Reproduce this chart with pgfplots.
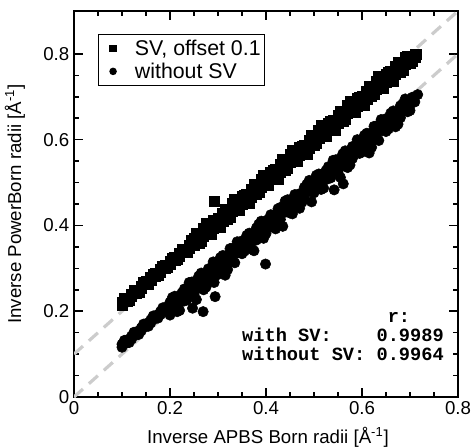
\documentclass[border=0pt]{standalone}
\usepackage{fontspec}
\setmainfont{Liberation Sans}
\setmonofont{Liberation Mono}
\usepackage{pgfplots}
\pgfplotsset{compat=1.18}
\definecolor{refline}{RGB}{204,204,204}

\begin{document}
\begin{tikzpicture}
\begin{axis}[
    scale only axis,
    width=288pt, height=289.5pt,
    xmin=0, xmax=0.8, ymin=0, ymax=0.9,
    xtick={0,0.2,0.4,0.6,0.8},
    ytick={0,0.2,0.4,0.6,0.8},
    minor tick num=3,
    tick align=inside,
    major tick length=6.5pt,
    minor tick length=3.5pt,
    axis line style={line width=1.5pt},
    every tick/.style={black, line width=1.2pt},
    /pgf/number format/assume math mode=true,
    tick label style={font=\fontsize{14}{16}\selectfont},
    label style={font=\fontsize{14}{16}\selectfont},
    xlabel={Inverse APBS Born radii [Å\textsuperscript{-1}]},
    ylabel={Inverse PowerBorn radii [Å\textsuperscript{-1}]},
    xlabel style={at={(axis description cs:0.505,-0.104)}, anchor=center},
    ylabel style={at={(axis description cs:-0.154,0.5)}, anchor=center},
    legend style={
        at={(axis description cs:0.0625,0.9404)},
        anchor=north west,
        draw=black, line width=0.8pt,
        font=\fontsize{16}{18}\selectfont,
        inner xsep=1pt, inner ysep=2pt,
    },
    legend cell align=left,
    legend image code/.code={
        \path (-9.5pt,0pt) (14pt,0pt);
        \draw[#1, mark size=2.4pt] plot coordinates {(0pt,0pt)};
    },
]

% ---------- SV, offset 0.1 ----------
\addplot[only marks, mark=square*, mark size=3.8pt, black]
table[row sep=\\]{
x y\\
0.10 0.221\\ 0.10 0.215\\ 0.11 0.230\\ 0.11 0.224\\
0.12 0.240\\ 0.12 0.234\\ 0.13 0.249\\ 0.13 0.243\\
0.14 0.259\\ 0.14 0.253\\ 0.15 0.269\\ 0.15 0.263\\
0.16 0.278\\ 0.16 0.272\\ 0.17 0.288\\ 0.17 0.282\\
0.18 0.297\\ 0.18 0.291\\ 0.19 0.307\\ 0.19 0.301\\
0.20 0.316\\ 0.20 0.310\\ 0.21 0.326\\ 0.21 0.320\\
0.22 0.335\\ 0.22 0.329\\ 0.23 0.345\\ 0.23 0.339\\
0.24 0.354\\ 0.24 0.348\\
0.25 0.371\\ 0.25 0.353\\ 0.26 0.375\\ 0.26 0.358\\
0.27 0.394\\ 0.27 0.376\\ 0.28 0.391\\ 0.28 0.379\\
0.29 0.411\\ 0.29 0.393\\ 0.30 0.406\\ 0.30 0.416\\
0.31 0.428\\ 0.31 0.410\\ 0.32 0.432\\ 0.32 0.415\\
0.33 0.451\\ 0.33 0.433\\ 0.34 0.448\\ 0.34 0.436\\
0.35 0.468\\ 0.35 0.450\\ 0.36 0.463\\ 0.36 0.473\\
0.37 0.485\\ 0.37 0.467\\ 0.38 0.489\\ 0.38 0.472\\
0.39 0.508\\ 0.39 0.490\\ 0.40 0.505\\ 0.40 0.493\\
0.41 0.525\\ 0.41 0.507\\ 0.42 0.520\\ 0.42 0.530\\
0.43 0.542\\ 0.43 0.524\\ 0.44 0.546\\ 0.44 0.529\\
0.45 0.565\\ 0.45 0.547\\ 0.46 0.562\\ 0.46 0.550\\
0.47 0.582\\ 0.47 0.564\\ 0.48 0.577\\ 0.48 0.587\\
0.49 0.599\\ 0.49 0.581\\ 0.50 0.603\\ 0.50 0.586\\
0.51 0.622\\ 0.51 0.604\\ 0.52 0.619\\ 0.52 0.607\\
0.53 0.639\\ 0.53 0.621\\ 0.54 0.634\\ 0.54 0.644\\
0.55 0.656\\ 0.55 0.638\\ 0.56 0.661\\ 0.56 0.644\\
0.57 0.679\\ 0.57 0.661\\ 0.58 0.677\\ 0.58 0.665\\
0.59 0.696\\ 0.59 0.678\\ 0.60 0.692\\ 0.60 0.702\\
0.61 0.713\\ 0.61 0.695\\ 0.62 0.718\\ 0.62 0.701\\
0.63 0.736\\ 0.63 0.718\\ 0.64 0.734\\ 0.64 0.722\\
0.65 0.753\\ 0.65 0.735\\ 0.66 0.749\\ 0.66 0.759\\
0.67 0.770\\ 0.67 0.752\\ 0.68 0.775\\ 0.68 0.758\\
0.69 0.793\\ 0.69 0.775\\ 0.70 0.791\\ 0.70 0.779\\
0.712 0.800\\ 0.71 0.792\\
0.105 0.229\\ 0.115 0.226\\ 0.125 0.248\\ 0.135 0.245\\
0.145 0.267\\ 0.155 0.264\\ 0.165 0.286\\ 0.175 0.283\\
0.185 0.305\\ 0.195 0.302\\ 0.205 0.324\\ 0.215 0.321\\
0.225 0.345\\ 0.235 0.338\\ 0.245 0.366\\
0.255 0.381\\ 0.265 0.363\\ 0.275 0.404\\ 0.285 0.379\\
0.295 0.413\\ 0.305 0.395\\ 0.315 0.438\\ 0.325 0.420\\
0.335 0.461\\ 0.345 0.436\\ 0.355 0.470\\ 0.365 0.452\\
0.375 0.495\\ 0.385 0.477\\ 0.395 0.518\\ 0.405 0.493\\
0.415 0.528\\ 0.425 0.509\\ 0.435 0.553\\ 0.445 0.534\\
0.455 0.576\\ 0.465 0.550\\ 0.475 0.585\\ 0.485 0.566\\
0.495 0.610\\ 0.505 0.591\\ 0.515 0.633\\ 0.525 0.607\\
0.535 0.642\\ 0.545 0.623\\ 0.555 0.667\\ 0.565 0.648\\
0.575 0.690\\ 0.585 0.664\\ 0.595 0.699\\ 0.605 0.680\\
0.615 0.724\\ 0.625 0.705\\ 0.635 0.747\\ 0.645 0.721\\
0.655 0.756\\ 0.665 0.737\\ 0.675 0.781\\ 0.685 0.762\\
0.695 0.794\\ 0.705 0.783\\
0.292 0.457\\
};
\addlegendentry{SV, offset 0.1}

% ---------- without SV ----------
\addplot[only marks, mark=*, mark size=3.9pt, black]
table[row sep=\\]{
x y\\
0.10 0.123\\ 0.10 0.116\\ 0.11 0.133\\ 0.11 0.126\\
0.12 0.142\\ 0.12 0.135\\ 0.13 0.152\\ 0.13 0.145\\
0.14 0.161\\ 0.14 0.154\\ 0.15 0.171\\ 0.15 0.164\\
0.16 0.180\\ 0.16 0.173\\ 0.17 0.190\\ 0.17 0.183\\
0.18 0.199\\ 0.18 0.192\\ 0.19 0.209\\ 0.19 0.202\\
0.20 0.221\\ 0.20 0.205\\ 0.20 0.191\\
0.21 0.235\\ 0.21 0.221\\ 0.21 0.207\\
0.22 0.236\\ 0.22 0.220\\ 0.22 0.202\\
0.23 0.252\\ 0.23 0.238\\ 0.23 0.224\\
0.24 0.257\\ 0.24 0.241\\ 0.24 0.267\\
0.25 0.269\\ 0.25 0.253\\ 0.25 0.239\\
0.26 0.282\\ 0.26 0.268\\ 0.26 0.254\\
0.27 0.284\\ 0.27 0.268\\ 0.27 0.250\\
0.28 0.299\\ 0.28 0.285\\ 0.28 0.271\\
0.29 0.305\\ 0.29 0.289\\ 0.29 0.315\\
0.30 0.316\\ 0.30 0.300\\ 0.30 0.286\\
0.31 0.330\\ 0.31 0.316\\ 0.31 0.302\\
0.32 0.331\\ 0.32 0.315\\ 0.32 0.297\\
0.33 0.347\\ 0.33 0.333\\ 0.33 0.319\\
0.34 0.352\\ 0.34 0.336\\ 0.34 0.362\\
0.35 0.364\\ 0.35 0.348\\ 0.35 0.334\\
0.36 0.377\\ 0.36 0.363\\ 0.36 0.349\\
0.37 0.379\\ 0.37 0.363\\ 0.37 0.345\\
0.38 0.394\\ 0.38 0.380\\ 0.38 0.366\\
0.39 0.400\\ 0.39 0.384\\ 0.39 0.410\\
0.40 0.411\\ 0.40 0.395\\ 0.40 0.381\\
0.41 0.425\\ 0.41 0.411\\ 0.41 0.397\\
0.42 0.426\\ 0.42 0.410\\ 0.42 0.392\\
0.43 0.442\\ 0.43 0.428\\ 0.43 0.414\\
0.44 0.447\\ 0.44 0.431\\ 0.44 0.457\\
0.45 0.459\\ 0.45 0.443\\ 0.45 0.429\\
0.46 0.472\\ 0.46 0.458\\ 0.46 0.444\\
0.47 0.474\\ 0.47 0.458\\ 0.47 0.440\\
0.48 0.489\\ 0.48 0.475\\ 0.48 0.461\\
0.49 0.495\\ 0.49 0.479\\ 0.49 0.505\\
0.50 0.506\\ 0.50 0.490\\ 0.50 0.476\\
0.51 0.520\\ 0.51 0.506\\ 0.51 0.492\\
0.52 0.521\\ 0.52 0.505\\ 0.52 0.487\\
0.53 0.537\\ 0.53 0.523\\ 0.53 0.509\\
0.54 0.542\\ 0.54 0.526\\ 0.54 0.552\\
0.55 0.554\\ 0.55 0.538\\ 0.55 0.524\\
0.56 0.567\\ 0.56 0.553\\ 0.56 0.539\\
0.57 0.569\\ 0.57 0.553\\ 0.57 0.535\\
0.58 0.584\\ 0.58 0.570\\ 0.58 0.556\\
0.59 0.590\\ 0.59 0.574\\ 0.59 0.600\\
0.60 0.601\\ 0.60 0.585\\ 0.60 0.571\\
0.61 0.615\\ 0.61 0.601\\ 0.61 0.587\\
0.62 0.616\\ 0.62 0.600\\ 0.62 0.582\\
0.63 0.632\\ 0.63 0.618\\ 0.63 0.604\\
0.64 0.637\\ 0.64 0.621\\ 0.64 0.647\\
0.65 0.649\\ 0.65 0.633\\ 0.65 0.619\\
0.66 0.662\\ 0.66 0.648\\ 0.66 0.634\\
0.67 0.664\\ 0.67 0.648\\ 0.67 0.630\\
0.68 0.679\\ 0.68 0.665\\ 0.68 0.651\\
0.69 0.685\\ 0.69 0.669\\ 0.69 0.695\\
0.70 0.694\\ 0.70 0.680\\ 0.70 0.668\\
0.71 0.700\\ 0.71 0.688\\ 0.716 0.705\\
0.105 0.132\\ 0.115 0.127\\ 0.125 0.151\\ 0.135 0.146\\
0.145 0.170\\ 0.155 0.165\\ 0.165 0.189\\ 0.175 0.184\\
0.185 0.208\\ 0.195 0.200\\
0.205 0.232\\ 0.215 0.199\\ 0.225 0.243\\ 0.235 0.226\\
0.245 0.268\\ 0.255 0.227\\ 0.265 0.289\\ 0.275 0.256\\
0.285 0.300\\ 0.295 0.283\\ 0.305 0.325\\ 0.315 0.284\\
0.325 0.346\\ 0.335 0.313\\ 0.345 0.357\\ 0.355 0.340\\
0.365 0.382\\ 0.375 0.341\\ 0.385 0.403\\ 0.395 0.370\\
0.405 0.414\\ 0.415 0.397\\ 0.425 0.439\\ 0.435 0.398\\
0.445 0.460\\ 0.455 0.427\\ 0.465 0.471\\ 0.475 0.454\\
0.485 0.496\\ 0.495 0.455\\ 0.505 0.517\\ 0.515 0.484\\
0.525 0.528\\ 0.535 0.511\\ 0.545 0.553\\ 0.555 0.512\\
0.565 0.574\\ 0.575 0.541\\ 0.585 0.585\\ 0.595 0.568\\
0.605 0.610\\ 0.615 0.569\\ 0.625 0.631\\ 0.635 0.598\\
0.645 0.642\\ 0.655 0.625\\ 0.665 0.667\\ 0.675 0.636\\
0.685 0.684\\ 0.695 0.665\\ 0.705 0.699\\
0.247 0.207\\ 0.269 0.199\\ 0.294 0.234\\ 0.292 0.267\\
0.399 0.310\\ 0.542 0.483\\ 0.561 0.497\\
};
\addlegendentry{without SV}

% ---------- reference lines ----------
\addplot[forget plot, refline, line width=2.4pt, dash pattern=on 9pt off 6pt]
coordinates {(0,0) (0.8,0.8)};
\addplot[forget plot, refline, line width=2.4pt, dash pattern=on 9pt off 6pt]
coordinates {(0,0.1) (0.8,0.9)};

\node[anchor=base east, inner sep=0pt,
      font=\ttfamily\bfseries\fontsize{14}{13.5}\selectfont]
    at (axis cs:0.771,0.085) {%
    \begin{tabular}[b]{@{}l@{\ }r@{}}
     & \phantom{0}r:\phantom{000}\\
    with SV: & 0.9989\\
    without SV: & 0.9964
    \end{tabular}};

\end{axis}
\pgfresetboundingbox
\path[use as bounding box] (-55.5pt,-36.75pt) rectangle (299.25pt,297.75pt);
\end{tikzpicture}
\end{document}
